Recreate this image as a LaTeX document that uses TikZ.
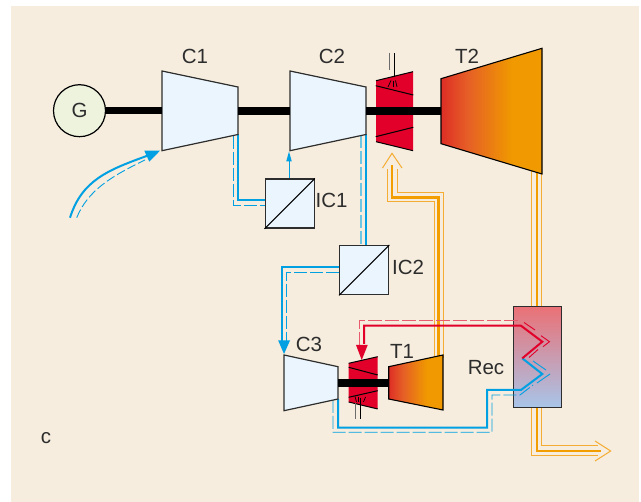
\documentclass[tikz,border=0pt]{standalone}
\usepackage{fontspec}
\setmainfont{Liberation Sans}
\definecolor{cream}{RGB}{246,237,222}
\definecolor{iceblue}{RGB}{235,245,253}
\definecolor{genfill}{RGB}{238,243,222}
\definecolor{flowblue}{RGB}{0,160,226}
\definecolor{paleblue}{RGB}{110,198,226}
\definecolor{flowred}{RGB}{226,0,42}
\definecolor{palered}{RGB}{232,90,110}
\definecolor{floworange}{RGB}{243,158,0}
\definecolor{thinorange}{RGB}{245,172,50}
\definecolor{inkgrey}{RGB}{45,45,45}
\definecolor{recTop}{RGB}{234,113,118}
\definecolor{recBot}{RGB}{168,197,233}
\pgfdeclarehorizontalshading{hotgrad}{100bp}{
  rgb(0bp)=(0.87,0.18,0.15); rgb(25bp)=(0.87,0.18,0.15);
  rgb(38bp)=(0.90,0.37,0.15); rgb(60bp)=(0.94,0.60,0.0); rgb(100bp)=(0.94,0.60,0.0)}
\tikzset{
  lbl/.style={text=inkgrey,font=\fontsize{20.5}{21}\selectfont,inner sep=0pt},
  compressor/.style={draw=inkgrey,line width=1.2pt,fill=iceblue,line join=miter},
  hotturbine/.style={draw=black,line width=1.1pt,shading=hotgrad},
  burnerline/.style={draw=black,line width=1pt},
  shaftline/.style={draw=black,line width=7.6pt},
  cooler/.style={draw=inkgrey,line width=1.3pt,fill=iceblue,minimum size=49pt,inner sep=0pt},
  bluethick/.style={draw=flowblue,line width=2pt,line join=miter},
  bluedash/.style={draw=flowblue,line width=0.9pt,dash pattern=on 13pt off 3pt},
  bluedashpale/.style={draw=paleblue,line width=1.5pt,dash pattern=on 13pt off 3pt},
  redthick/.style={draw=flowred,line width=2pt,line join=miter},
  reddash/.style={draw=palered,line width=1pt,dash pattern=on 14pt off 3pt},
  orthick/.style={draw=floworange,line width=2.3pt,line join=miter},
  orthin/.style={draw=thinorange,line width=1pt,line join=miter},
}
\begin{document}
\begin{tikzpicture}[x=1pt,y=-1pt]
\useasboundingbox (0,0) rectangle (641,502);
\fill[cream] (11,6) rectangle (639,502);

% named anchors
\coordinate (c1o) at (238.3,134);
\coordinate (c1oD) at (233.7,136);
\coordinate (c2o) at (365.7,134);
\coordinate (c2oD) at (361,135);
\coordinate (c3o) at (338,399);
\coordinate (c3oD) at (333,400);
\coordinate (c1in) at (160,150.7);
\coordinate (c2in) at (289,151.5);
\coordinate (c3in) at (284,354);
\coordinate (t2out) at (536.7,171);
\coordinate (t1in) at (438.5,358);
\coordinate (hpin) at (392,153.3);
\coordinate (hpburn) at (361.7,360);
\coordinate (exit) at (610.7,451);

% orange bundles
\draw[orthin] (434,358) -- (434,202) -- (387.5,202) -- (387.5,169);
\draw[orthick] (t1in) -- (438.5,197.5) -- (392,197.5) -- (392,165);
\draw[orthin] (443,358) -- (443,192.5) -- (397.5,192.5) -- (397.5,169);
\draw[orthin] (382.5,168) -- (hpin) -- (402,168);
\draw[orthin] (531.7,168) -- (531.7,455.7) -- (597.7,455.7);
\draw[orthick] (t2out) -- (536.7,451) -- (600.7,451);
\draw[orthin] (541.7,168) -- (541.7,446) -- (597.7,446);
\draw[orthin] (595,441) -- (exit) -- (595,461);

% exchanger bodies and generator
\node[cooler,anchor=north west] (ic1) at (264.5,178.5) {};
\node[cooler,anchor=north west] (ic2) at (339,245) {};
\node[draw=inkgrey,line width=1.5pt,top color=recTop,bottom color=recBot,minimum width=48pt,minimum height=101pt,inner sep=0pt,anchor=north west] (rec) at (512.7,305.7) {};
\node[circle,draw=black,line width=1.2pt,fill=genfill,minimum size=52pt,inner sep=0pt,text=inkgrey,font=\fontsize{20.5}{21}\selectfont] (gen) at (79.5,110.7) {G};

% inlet
\draw[bluethick] (70,217.7) .. controls (82,180) and (108,170) .. (148,155.5);
\draw[bluedash,dash pattern=on 9pt off 3pt] (76.7,217.7) .. controls (88,190) and (112,176) .. (145,160);
\fill[flowblue] (c1in) -- (144.3,150.7) -- (149.3,161.7) -- cycle;

% intercooler 1
\draw[bluethick] (c1o) -- (238.3,200.3) -- (ic1.west |- 0,200.3);
\draw[bluedash] (c1oD) -- (233.7,205.3) -- (ic1.west |- 0,205.3);
\draw[draw=flowblue,line width=1pt] (ic1.north -| 289,0) -- (289,160);
\fill[flowblue] (c2in) -- (286.2,161.5) -- (291.8,161.5) -- cycle;

% intercooler 2
\draw[bluethick] (c2o) -- (ic2.north -| 365.7,0);
\draw[bluedashpale] (c2oD) -- (ic2.north -| 361,0);
\draw[bluethick] (ic2.west |- 0,267) -- (282,267) -- (282,342);
\draw[bluedash] (ic2.west |- 0,272.3) -- (286.3,272.3) -- (286.3,341);
\fill[flowblue] (c3in) -- (278.2,340.5) -- (290,340.5) -- cycle;

% recuperator cold side
\draw[bluethick] (c3o) -- (338,427.7) -- (487,427.7) -- (487,390) -- (521,390) -- (542.3,374) -- (522.3,358.3);
\draw[bluedash] (c3oD) -- (333,432.3) -- (492,432.3) -- (492,395) -- (520,395) -- (533,385);
\draw[draw=flowblue,line width=0.9pt] (537,383) -- (550,374);
\draw[draw=flowblue,line width=0.9pt] (533,361) -- (546,370);

% recuperator hot side
\draw[redthick] (hpburn) ++(2.3,-16) -- (364,325.7) -- (521,325.7) -- (542.3,341.7) -- (522.3,358.3);
\draw[reddash] (359,346) -- (359,321) -- (519,321);
\draw[draw=flowred,line width=0.9pt] (524,322.5) -- (535,330);
\draw[draw=flowred,line width=0.9pt] (541,335.7) -- (549.5,341.7) -- (543,346.7);
\draw[draw=flowred,line width=0.9pt] (538,349.5) -- (529,357.5);
\fill[flowred] (hpburn) -- (356,345) -- (367.7,345) -- cycle;

% cooler faces
\draw[draw=black,line width=1pt] (ic1.south west) -- (ic1.north east);
\draw[draw=black,line width=1pt] (ic2.south west) -- (ic2.north east);

% compressors
\draw[compressor] (162,71) -- (238,87) -- (238,134.5) -- (162,150.7) -- cycle;
\draw[compressor] (290,71) -- (366,87) -- (366,134.5) -- (290,150.7) -- cycle;
\draw[compressor] (284,355) -- (338,366.7) -- (338,399) -- (284,410.7) -- cycle;

% high-pressure burner stage
\fill[flowred] (376,80.7) -- (413,71.7) -- (413,150.7) -- (376,141.7) -- cycle;
\draw[burnerline] (376,80.7) -- (413,71.7);
\draw[burnerline] (376,141.7) -- (413,150.7);
\draw[burnerline] (375.7,85.7) -- (413.3,95);
\draw[burnerline] (375.7,136.7) -- (413.3,127.3);
\draw[draw=inkgrey!70,line width=1pt] (389.3,53) -- (389.3,70);
\draw[draw=black,line width=1pt] (394,53) -- (394,77);
\draw[draw=black,line width=0.7pt] (388,87) -- (391,80.5);
\draw[draw=black,line width=0.7pt] (393,81) -- (393,87);
\draw[draw=black,line width=0.7pt] (395.5,80.5) -- (397,87);

% turbines
\path[hotturbine] (441,78.7) -- (542,48.3) -- (542,174) -- (441,143.7) -- cycle;
\path[hotturbine] (388.7,366.7) -- (443,355) -- (443,410) -- (388.7,399) -- cycle;

% low-pressure burner stage
\fill[flowred] (348.7,363.3) -- (377.7,356.7) -- (377.7,409) -- (348.7,402) -- cycle;
\draw[burnerline] (348.7,363.3) -- (377.7,356.7);
\draw[burnerline] (348.7,402) -- (377.7,409);
\draw[burnerline] (348.7,367.3) -- (377.7,375);
\draw[burnerline] (348.7,397.3) -- (377.7,390.7);
\draw[draw=inkgrey!70,line width=1pt] (355.7,403) -- (355.7,419);
\draw[draw=black,line width=1pt] (360.7,398) -- (360.7,419);
\draw[draw=black,line width=0.7pt] (355,396.5) -- (356.5,402);
\draw[draw=black,line width=0.7pt] (358,397) -- (358,402);
\draw[draw=black,line width=0.7pt] (363.5,402) -- (365.5,397);

% shafts
\draw[shaftline] (gen.east) -- (162,110.7);
\draw[shaftline] (238,111) -- (290,111);
\draw[shaftline] (366,111) -- (441,111);
\draw[shaftline] (338,383) -- (388.7,383);

% labels
\node[lbl] (lc1) at (195,56) {C1};
\node[lbl] (lc2) at (332,56) {C2};
\node[lbl] (lt2) at (467,56) {T2};
\node[lbl,anchor=west] (lic1) at (315.5,200.5) {IC1};
\node[lbl,anchor=west] (lic2) at (392,267) {IC2};
\node[lbl] (lc3) at (309,344) {C3};
\node[lbl] (lt1) at (402,351) {T1};
\node[lbl] (lrec) at (486,368) {Rec};
\node[lbl] (lc) at (46,438) {c};
\end{tikzpicture}
\end{document}
